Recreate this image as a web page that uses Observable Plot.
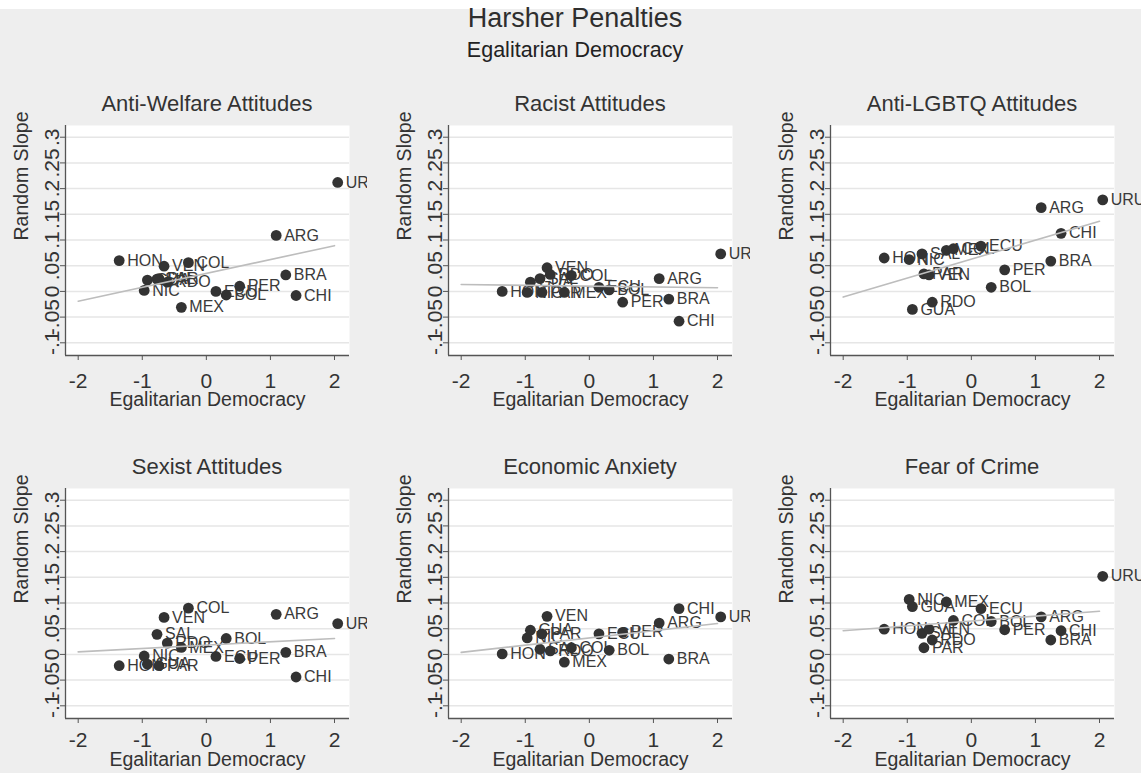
<!DOCTYPE html>
<html>
<head>
<meta charset="utf-8">
<script src="https://cdn.jsdelivr.net/npm/d3@7"></script>
<script src="https://cdn.jsdelivr.net/npm/@observablehq/plot@0.6"></script>
<style>
  html, body { margin: 0; padding: 0; background: #eeeeee; }
  #root { position: relative; width: 1141px; height: 773px; overflow: hidden; background: #eeeeee;
          font-family: "Liberation Sans", Arial, sans-serif; color: #333; }
  .strip { position: absolute; left: 0; top: 0; width: 1141px; height: 9px; background: #ffffff; }
  .ttl { position: absolute; left: 0; width: 1150px; text-align: center; white-space: nowrap; }
  .ptitle { position: absolute; width: 284px; text-align: center; font-size: 22px; line-height: 22px; white-space: nowrap; color: #333; }
  .panel { position: absolute; }
</style>
</head>
<body>
<div id="root">
  <div class="strip"></div>
  <div class="ttl" style="top:5px;font-size:27px;line-height:27px;color:#2e2e2e;">Harsher Penalties</div>
  <div class="ttl" style="top:40px;font-size:21.5px;line-height:21px;color:#222;">Egalitarian Democracy</div>
</div>
<script>
// ---------------- data ----------------
const countries = ["HON","NIC","GUA","SAL","PAR","VEN","RDO","MEX","COL","ECU","BOL","PER","ARG","BRA","CHI","URU"];
const egalDem   = [-1.36,-0.97,-0.92,-0.77,-0.74,-0.66,-0.61,-0.39,-0.28,0.15,0.31,0.52,1.09,1.24,1.40,2.05];

const antiWelfare     = [0.060, 0.002, 0.022, 0.024, 0.025, 0.049, 0.018,-0.031, 0.056, 0.000,-0.007, 0.010, 0.109, 0.032,-0.008, 0.212];
const racist          = [0.000,-0.002, 0.018, 0.025,-0.002, 0.046, 0.033,-0.002, 0.031, 0.008, 0.003,-0.021, 0.025,-0.015,-0.058, 0.073];
const antiLGBTQ       = [0.065, 0.062,-0.035, 0.073, 0.034, 0.032,-0.021, 0.080, 0.083, 0.088, 0.008, 0.042, 0.163, 0.059, 0.113, 0.178];
const sexist          = [-0.022,-0.003,-0.019, 0.039,-0.022, 0.072, 0.022, 0.0135, 0.090,-0.004, 0.031,-0.008, 0.078, 0.004,-0.044, 0.060];
const economicAnxiety = [0.001, 0.032, 0.047, 0.010, 0.040, 0.074, 0.007,-0.015, 0.013, 0.040, 0.008, 0.043, 0.061,-0.009, 0.089, 0.073];
const fearOfCrime     = [0.049, 0.107, 0.093, 0.041, 0.013, 0.049, 0.028, 0.102, 0.066, 0.089, 0.064, 0.048, 0.073, 0.028, 0.046, 0.152];

const panelTitles = ["Anti-Welfare Attitudes","Racist Attitudes","Anti-LGBTQ Attitudes","Sexist Attitudes","Economic Anxiety","Fear of Crime"];
const panelSeries = [antiWelfare, racist, antiLGBTQ, sexist, economicAnxiety, fearOfCrime];

// fitted line end points (at x = -2 and x = 2)
const fitX      = [-2, 2];
const fitStartY = [-0.019, 0.0135, -0.011, 0.005, 0.004, 0.046];
const fitEndY   = [ 0.089, 0.007,   0.1365, 0.031, 0.060, 0.084];

const xTicks = [-2, -1, 0, 1, 2];
const xTickLabels = ["-2", "-1", "0", "1", "2"];
const yTicks = [-0.1, -0.05, 0, 0.05, 0.1, 0.15, 0.2, 0.25, 0.3];
const yTickLabels = ["-.1", "-.05", "0", ".05", ".1", ".15", ".2", ".25", ".3"];

const xTitle = "Egalitarian Democracy";
const yTitle = "Random Slope";

// ---------------- layout ----------------
const xDomain = [-2.198, 2.234];
const yDomain = [-0.1247, 0.3228];
const colLeft = [0, 383, 765];
const svgWidth = [367, 367, 376];
const rowPlotTop = [125, 487.6];
const marginTop = 15, plotH = 230, marginBottom = 60, marginLeft = 65, plotW = 284;
const tickSize = 5;
const tickFont = "21px";
const xTickDy = [18, 13.5];
const xTitleDy = [44, 41];
const titleTop = [93, 456];

const root = document.getElementById("root");
const font = '"Liberation Sans", Arial, sans-serif';

panelSeries.forEach((vals, i) => {
  const col = i % 3, row = Math.floor(i / 3);
  const pts = countries.map((c, k) => ({country: c, x: egalDem[k], y: vals[k]}));
  const fit = fitX.map((x, k) => ({x, y: k === 0 ? fitStartY[i] : fitEndY[i]}));
  const W = svgWidth[col];

  const svg = Plot.plot({
    width: W,
    height: marginTop + plotH + marginBottom,
    marginTop, marginBottom, marginLeft,
    marginRight: W - marginLeft - plotW,
    x: {domain: xDomain, label: null},
    y: {domain: yDomain, label: null},
    style: {background: "transparent", overflow: "hidden", fontFamily: font, color: "#333"},
    marks: [
      Plot.frame({fill: "white", stroke: "none"}),
      Plot.gridY(yTicks, {stroke: "#e6e6e6", strokeOpacity: 1, strokeWidth: 1.5}),
      Plot.ruleX([xDomain[0]], {stroke: "#555", strokeWidth: 1.3}),
      Plot.ruleY([yDomain[0]], {stroke: "#555", strokeWidth: 1.3}),
      // tick marks (labels drawn below as text marks)
      Plot.axisX(xTicks, {tickSize, label: null, color: "#555", tickFormat: () => ""}),
      Plot.axisY(yTicks, {tickSize, label: null, color: "#555", tickFormat: () => ""}),
      // tick labels, positioned by the scales
      Plot.text(xTicks, {x: d => d, frameAnchor: "bottom", dy: xTickDy[row], lineAnchor: "top",
        text: d => xTickLabels[xTicks.indexOf(d)], fontSize: tickFont, fill: "#333"}),
      Plot.text(yTicks, {y: d => d, frameAnchor: "left", dx: -13, rotate: -90, textAnchor: "middle",
        lineAnchor: "middle", text: d => yTickLabels[yTicks.indexOf(d)], fontSize: tickFont, fill: "#333"}),
      // axis titles
      Plot.text([xTitle], {frameAnchor: "bottom", dy: xTitleDy[row], lineAnchor: "middle", text: d => d, fontSize: 19.5, fill: "#333"}),
      Plot.text([yTitle], {frameAnchor: "left", dx: -44, rotate: -90, lineAnchor: "middle", text: d => d, fontSize: 19.5, fill: "#333"}),
      // data
      Plot.text(pts, {x: "x", y: "y", text: "country", dx: 8, textAnchor: "start", fontSize: 16, fill: "#3a3a3a"}),
      Plot.dot(pts, {x: "x", y: "y", r: 5.4, fill: "#333333", stroke: "none"}),
      Plot.line(fit, {x: "x", y: "y", stroke: "#bdbdbd", strokeWidth: 1.6})
    ]
  });

  const wrap = document.createElement("div");
  wrap.className = "panel";
  wrap.style.left = colLeft[col] + "px";
  wrap.style.top = (rowPlotTop[row] - marginTop) + "px";
  wrap.style.width = W + "px";
  wrap.appendChild(svg);
  root.appendChild(wrap);

  const t = document.createElement("div");
  t.className = "ptitle";
  t.style.left = (colLeft[col] + marginLeft) + "px";
  t.style.top = titleTop[row] + "px";
  t.textContent = panelTitles[i];
  root.appendChild(t);
});
</script>
</body>
</html>
